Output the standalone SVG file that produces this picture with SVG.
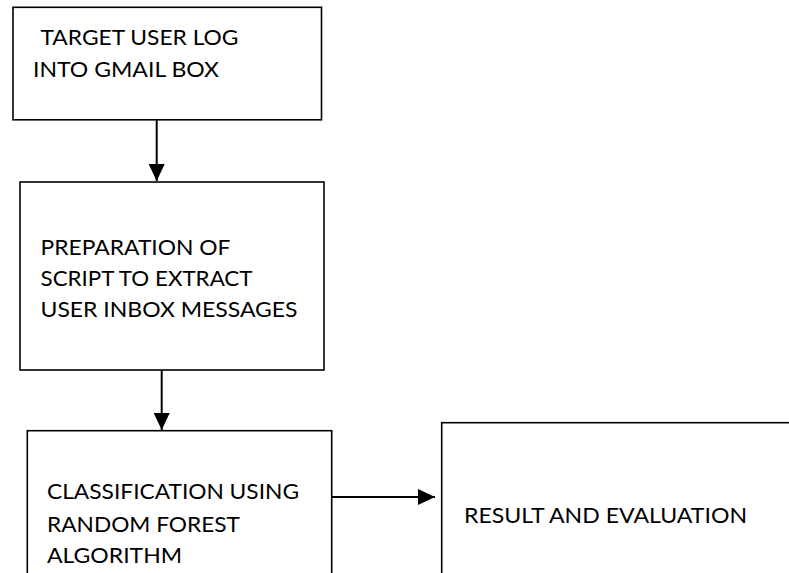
<svg xmlns="http://www.w3.org/2000/svg" width="789" height="573" viewBox="0 0 789 573">
  <style>
    .box { fill: #ffffff; stroke: #000000; stroke-width: 1.6; }
    .lbl { font-family: Lato, "Open Sans", "Liberation Sans", sans-serif; font-size: 21.5px; fill: #000000; }
    .wire { stroke: #000000; stroke-width: 2; fill: none; marker-end: url(#head); }
  </style>
  <defs>
    <marker id="head" markerUnits="userSpaceOnUse" markerWidth="18" markerHeight="16" refX="17" refY="8" orient="auto">
      <path d="M0,0 L17,8 L0,16 Z" fill="#000000"/>
    </marker>
  </defs>
  <rect width="789" height="573" fill="#ffffff"/>

  <g id="login">
    <rect class="box" x="13" y="7.3" width="308.5" height="112.5"/>
    <text class="lbl" x="40.5" y="45" textLength="198" lengthAdjust="spacingAndGlyphs">TARGET USER LOG</text>
    <text class="lbl" x="33" y="77.3" textLength="186" lengthAdjust="spacingAndGlyphs">INTO GMAIL BOX</text>
  </g>

  <g id="extract">
    <rect class="box" x="20" y="182" width="304" height="188"/>
    <text class="lbl" x="40.5" y="255" textLength="190" lengthAdjust="spacingAndGlyphs">PREPARATION OF</text>
    <text class="lbl" x="40.5" y="286" textLength="212" lengthAdjust="spacingAndGlyphs">SCRIPT TO EXTRACT</text>
    <text class="lbl" x="40.5" y="317" textLength="257" lengthAdjust="spacingAndGlyphs">USER INBOX MESSAGES</text>
  </g>

  <g id="classify">
    <rect class="box" x="27.3" y="430.7" width="304.4" height="200"/>
    <text class="lbl" x="47" y="499" textLength="252" lengthAdjust="spacingAndGlyphs">CLASSIFICATION USING</text>
    <text class="lbl" x="47" y="531.5" textLength="193" lengthAdjust="spacingAndGlyphs">RANDOM FOREST</text>
    <text class="lbl" x="47" y="563" textLength="135" lengthAdjust="spacingAndGlyphs">ALGORITHM</text>
  </g>

  <g id="result">
    <rect class="box" x="441.7" y="422.7" width="400" height="200"/>
    <text class="lbl" x="464" y="523" textLength="283" lengthAdjust="spacingAndGlyphs">RESULT AND EVALUATION</text>
  </g>

  <g id="connectors">
    <line class="wire" x1="156.7" y1="120" x2="156.7" y2="181"/>
    <line class="wire" x1="161.7" y1="370" x2="161.7" y2="430"/>
    <line class="wire" x1="332" y1="497" x2="435" y2="497"/>
  </g>
</svg>
